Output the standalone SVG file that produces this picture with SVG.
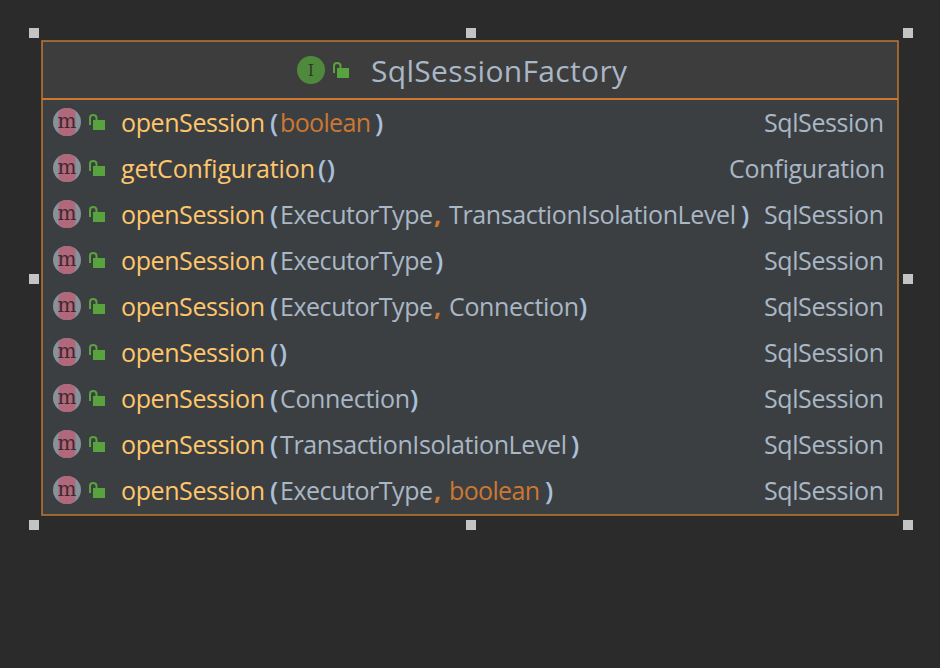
<svg xmlns="http://www.w3.org/2000/svg" width="940" height="668" viewBox="0 0 940 668">
<style>
text{font-family:"Open Sans","Noto Sans","Liberation Sans",sans-serif;font-size:25px}
.f{fill:#ffc66d}.p{fill:#a9b7c6}.k{fill:#cc7832}.r{fill:#a9b7c6;text-anchor:end}
.b{fill:#a9c0dc;font-weight:600;font-size:26px}
.h{fill:#c4c4c4}
.g{font-family:"DejaVu Serif",serif;text-anchor:middle}
</style>
<defs>
<g id="m">
<circle cx="67" cy="122" r="14" fill="#87939a"/>
<path d="M58.500 114Q58.500 108 67 108Q75.500 108 75.500 114V130Q75.500 136 67 136Q58.500 136 58.500 130Z" fill="#b0687a"/>
<text x="67" y="128" class="g" style="font-size:20px" fill="#3c2a30">m</text>
</g>
<g id="l">
<rect x="93" y="120" width="12" height="10" fill="#59a33f"/>
<path d="M90 125V118Q90 115 93 115Q96.500 115 96.500 118V121" fill="none" stroke="#59a33f" stroke-width="2"/>
</g>
</defs>
<rect width="940" height="668" fill="#2b2b2b"/>
<g id="handles">
<rect class="h" x="29" y="28" width="10" height="10"/><rect class="h" x="466" y="28" width="10" height="10"/><rect class="h" x="903" y="28" width="10" height="10"/>
<rect class="h" x="29" y="274" width="10" height="10"/><rect class="h" x="903" y="274" width="10" height="10"/>
<rect class="h" x="29" y="520" width="10" height="10"/><rect class="h" x="466" y="520" width="10" height="10"/><rect class="h" x="903" y="520" width="10" height="10"/>
</g>
<g id="SqlSessionFactory">
<rect x="42" y="41" width="856" height="474" fill="#3c3f41"/>
<rect x="42" y="41" width="856" height="58" fill="#3d3d3d"/>
<path d="M42 99H898" stroke="#cc7832" stroke-width="2" fill="none"/>
<rect x="42" y="41" width="856" height="474" fill="none" stroke="#c07830" stroke-width="1.500"/>
<circle cx="311" cy="70" r="14" fill="#4f8a3c"/>
<text x="311" y="76" class="g" style="font-size:16px" fill="#2f3a2c">I</text>
<use href="#l" x="244" y="-52"/>
<text x="371" y="82" class="p" style="font-size:30px" textLength="256">SqlSessionFactory</text>
</g>
<g id="row1"><use href="#m"/><use href="#l"/>
<text x="121" y="132" class="f" textLength="144">openSession</text><text x="270" y="132" class="b">(</text><text x="280" y="132" class="k" textLength="91">boolean</text><text x="375" y="132" class="b">)</text><text x="884" y="132" class="r" textLength="120">SqlSession</text></g>
<g id="row2" transform="translate(0,46)"><use href="#m"/><use href="#l"/>
<text x="121" y="132" class="f" textLength="194">getConfiguration</text><text x="318" y="132" class="b" textLength="17">()</text><text x="885" y="132" class="r" textLength="156">Configuration</text></g>
<g id="row3" transform="translate(0,92)"><use href="#m"/><use href="#l"/>
<text x="121" y="132" class="f" textLength="144">openSession</text><text x="270" y="132" class="b">(</text><text x="280" y="132" class="p" textLength="153">ExecutorType</text><text x="434" y="132" class="k" style="font-weight:bold">,</text><text x="449" y="132" class="p" textLength="287">TransactionIsolationLevel</text><text x="741" y="132" class="b">)</text><text x="884" y="132" class="r" textLength="120">SqlSession</text></g>
<g id="row4" transform="translate(0,138)"><use href="#m"/><use href="#l"/>
<text x="121" y="132" class="f" textLength="144">openSession</text><text x="270" y="132" class="b">(</text><text x="280" y="132" class="p" textLength="153">ExecutorType</text><text x="435" y="132" class="b">)</text><text x="884" y="132" class="r" textLength="120">SqlSession</text></g>
<g id="row5" transform="translate(0,184)"><use href="#m"/><use href="#l"/>
<text x="121" y="132" class="f" textLength="144">openSession</text><text x="270" y="132" class="b">(</text><text x="280" y="132" class="p" textLength="153">ExecutorType</text><text x="434" y="132" class="k" style="font-weight:bold">,</text><text x="449" y="132" class="p" textLength="130">Connection</text><text x="579" y="132" class="b">)</text><text x="884" y="132" class="r" textLength="120">SqlSession</text></g>
<g id="row6" transform="translate(0,230)"><use href="#m"/><use href="#l"/>
<text x="121" y="132" class="f" textLength="144">openSession</text><text x="270" y="132" class="b" textLength="17">()</text><text x="884" y="132" class="r" textLength="120">SqlSession</text></g>
<g id="row7" transform="translate(0,276)"><use href="#m"/><use href="#l"/>
<text x="121" y="132" class="f" textLength="144">openSession</text><text x="270" y="132" class="b">(</text><text x="280" y="132" class="p" textLength="130">Connection</text><text x="410" y="132" class="b">)</text><text x="884" y="132" class="r" textLength="120">SqlSession</text></g>
<g id="row8" transform="translate(0,322)"><use href="#m"/><use href="#l"/>
<text x="121" y="132" class="f" textLength="144">openSession</text><text x="270" y="132" class="b">(</text><text x="280" y="132" class="p" textLength="287">TransactionIsolationLevel</text><text x="571" y="132" class="b">)</text><text x="884" y="132" class="r" textLength="120">SqlSession</text></g>
<g id="row9" transform="translate(0,368)"><use href="#m"/><use href="#l"/>
<text x="121" y="132" class="f" textLength="144">openSession</text><text x="270" y="132" class="b">(</text><text x="280" y="132" class="p" textLength="153">ExecutorType</text><text x="434" y="132" class="k" style="font-weight:bold">,</text><text x="449" y="132" class="k" textLength="91">boolean</text><text x="545" y="132" class="b">)</text><text x="884" y="132" class="r" textLength="120">SqlSession</text></g>
</svg>
